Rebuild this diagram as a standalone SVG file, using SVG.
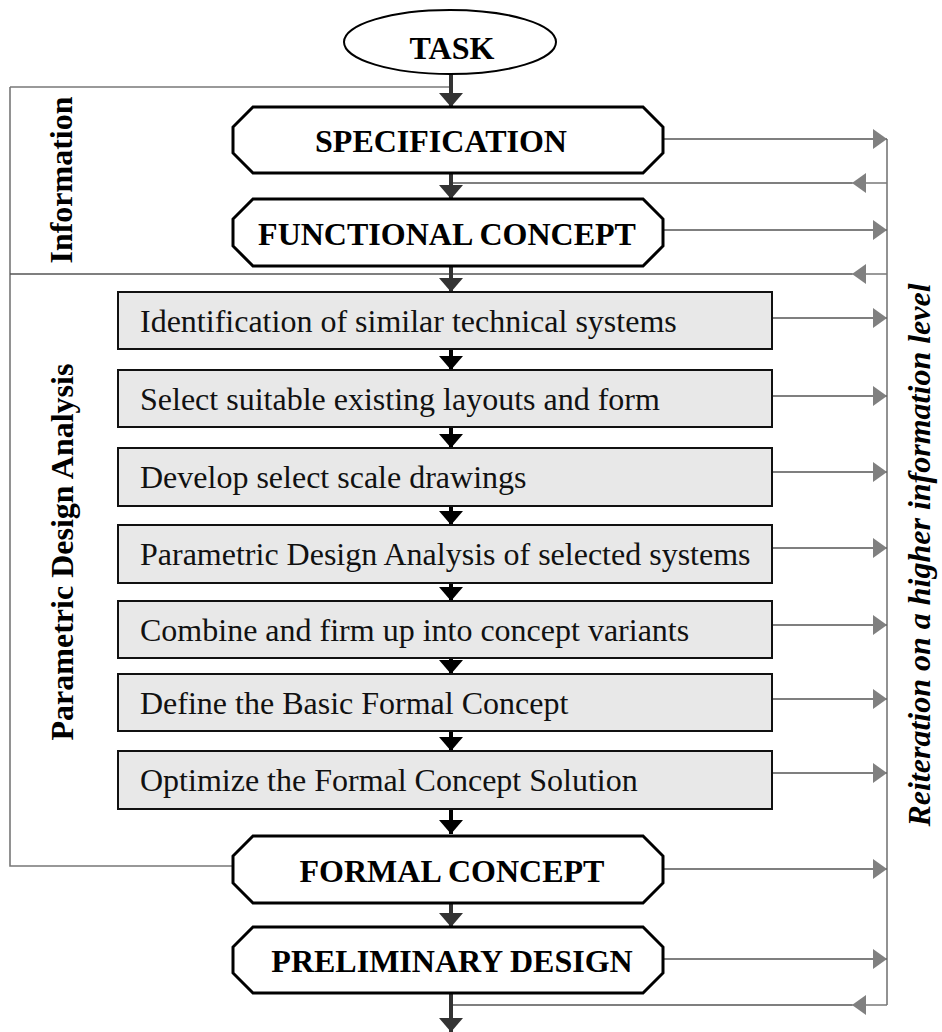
<svg xmlns="http://www.w3.org/2000/svg" width="942" height="1032" viewBox="0 0 942 1032">
<style>
.oct{fill:#fff;stroke:#000;stroke-width:3}
.box{fill:#e8e8e8;stroke:#111;stroke-width:2}
.bt{font-family:"Liberation Serif","Times New Roman",serif;font-weight:bold;font-size:32px;fill:#000;text-anchor:middle}
.rt{font-family:"Liberation Serif","Times New Roman",serif;font-size:32px;fill:#111}
.side{font-family:"Liberation Serif","Times New Roman",serif;font-weight:bold;font-size:32px;fill:#000;text-anchor:middle}
.fb{stroke:#000;stroke-width:4;fill:none}
.fb2{stroke:#333;stroke-width:4;fill:none}
.ln{stroke:#555;stroke-width:1.6;fill:none}
.gl{stroke:#777;stroke-width:1.6;fill:none}
</style>
<defs>
<marker id="bk" markerUnits="userSpaceOnUse" markerWidth="26" markerHeight="16" refX="12" refY="15" orient="0"><path d="M0,1 L24,1 L12,15 Z" fill="#000"/></marker>
<marker id="dg" markerUnits="userSpaceOnUse" markerWidth="26" markerHeight="16" refX="12" refY="15" orient="0"><path d="M0,1 L24,1 L12,15 Z" fill="#333"/></marker>
<marker id="ar" markerUnits="userSpaceOnUse" markerWidth="16" markerHeight="22" refX="15" refY="11" orient="0"><path d="M1,1 L15,11 L1,21 Z" fill="#808080"/></marker>
<marker id="al" markerUnits="userSpaceOnUse" markerWidth="16" markerHeight="22" refX="1" refY="11" orient="0"><path d="M15,1 L1,11 L15,21 Z" fill="#808080"/></marker>
</defs>

<g id="connectors">
  <path class="gl" d="M10,87 L451,87"/>
  <path class="gl" d="M10,87 L10,866 L233,866"/>
  <path class="ln" d="M10,274 L852,274"/>
  <path class="gl" d="M887,274 L852,274" marker-end="url(#al)"/>
  <path class="gl" d="M887,139 L887,1005"/>
  <path class="fb2" d="M451,74 L451,107" marker-end="url(#dg)"/>
  <path class="fb2" d="M451,173 L451,199" marker-end="url(#dg)"/>
  <path class="fb2" d="M451,266 L451,292" marker-end="url(#dg)"/>
  <path class="fb" d="M451,349 L451,370" marker-end="url(#bk)"/>
  <path class="fb" d="M451,427 L451,448" marker-end="url(#bk)"/>
  <path class="fb" d="M451,506 L451,525" marker-end="url(#bk)"/>
  <path class="fb" d="M451,583 L451,601" marker-end="url(#bk)"/>
  <path class="fb" d="M451,658 L451,674" marker-end="url(#bk)"/>
  <path class="fb" d="M451,731 L451,751" marker-end="url(#bk)"/>
  <path class="fb" d="M451,809 L451,834" marker-end="url(#bk)"/>
  <path class="fb2" d="M451,903 L451,927" marker-end="url(#dg)"/>
  <path class="fb2" d="M451,993 L451,1032" marker-end="url(#dg)"/>
  <path class="ln" d="M453,183 L852,183"/>
  <path class="gl" d="M887,183 L852,183" marker-end="url(#al)"/>
  <path class="ln" d="M453,1005 L852,1005"/>
  <path class="gl" d="M887,1005 L852,1005" marker-end="url(#al)"/>
  <path class="ln" d="M663,139 L887,139" marker-end="url(#ar)"/>
  <path class="ln" d="M663,230 L887,230" marker-end="url(#ar)"/>
  <path class="ln" d="M772,318 L887,318" marker-end="url(#ar)"/>
  <path class="ln" d="M772,396 L887,396" marker-end="url(#ar)"/>
  <path class="ln" d="M772,472 L887,472" marker-end="url(#ar)"/>
  <path class="ln" d="M772,548 L887,548" marker-end="url(#ar)"/>
  <path class="ln" d="M772,625 L887,625" marker-end="url(#ar)"/>
  <path class="ln" d="M772,699 L887,699" marker-end="url(#ar)"/>
  <path class="ln" d="M772,773 L887,773" marker-end="url(#ar)"/>
  <path class="ln" d="M663,869 L887,869" marker-end="url(#ar)"/>
  <path class="ln" d="M663,959 L887,959" marker-end="url(#ar)"/>
</g>

<g id="task">
  <ellipse cx="450" cy="42" rx="106" ry="32" fill="#fff" stroke="#000" stroke-width="2"/>
  <text class="bt" x="452" y="59">TASK</text>
</g>
<g id="specification">
  <path class="oct" d="M253,107 L643,107 L663,127 L663,153 L643,173 L253,173 L233,153 L233,127 Z"/>
  <text class="bt" x="441" y="152">SPECIFICATION</text>
</g>
<g id="functional">
  <path class="oct" d="M253,199 L643,199 L663,219 L663,246 L643,266 L253,266 L233,246 L233,219 Z"/>
  <text class="bt" x="447" y="245">FUNCTIONAL CONCEPT</text>
</g>
<g id="step1"><rect class="box" x="118" y="292" width="654" height="57"/><text class="rt" x="140" y="332">Identification of similar technical systems</text></g>
<g id="step2"><rect class="box" x="118" y="370" width="654" height="57"/><text class="rt" x="140" y="410">Select suitable existing layouts and form</text></g>
<g id="step3"><rect class="box" x="118" y="448" width="654" height="58"/><text class="rt" x="140" y="488">Develop select scale drawings</text></g>
<g id="step4"><rect class="box" x="118" y="525" width="654" height="58"/><text class="rt" x="140" y="565">Parametric Design Analysis of selected systems</text></g>
<g id="step5"><rect class="box" x="118" y="601" width="654" height="57"/><text class="rt" x="140" y="641">Combine and firm up into concept variants</text></g>
<g id="step6"><rect class="box" x="118" y="674" width="654" height="57"/><text class="rt" x="140" y="714">Define the Basic Formal Concept</text></g>
<g id="step7"><rect class="box" x="118" y="751" width="654" height="58"/><text class="rt" x="140" y="791">Optimize the Formal Concept Solution</text></g>
<g id="formal">
  <path class="oct" d="M253,836 L643,836 L663,856 L663,883 L643,903 L253,903 L233,883 L233,856 Z"/>
  <text class="bt" x="452" y="882">FORMAL CONCEPT</text>
</g>
<g id="preliminary">
  <path class="oct" d="M253,927 L643,927 L663,947 L663,973 L643,993 L253,993 L233,973 L233,947 Z"/>
  <text class="bt" x="452" y="972">PRELIMINARY DESIGN</text>
</g>
<g id="labels">
  <text class="side" transform="translate(72,180) rotate(-90)">Information</text>
  <text class="side" transform="translate(73,552) rotate(-90)">Parametric Design Analysis</text>
  <text class="side" font-style="italic" transform="translate(930,555) rotate(-90)">Reiteration on a higher information level</text>
</g>
</svg>
